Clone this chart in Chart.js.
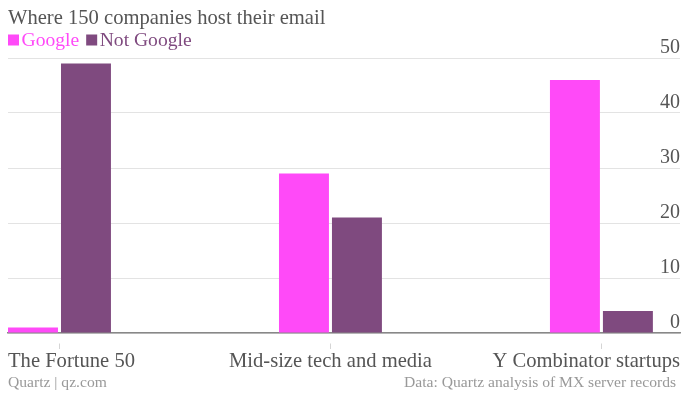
<!DOCTYPE html>
<html><head><meta charset="utf-8">
<script src="https://cdn.jsdelivr.net/npm/chart.js@4"></script>
<style>html,body{margin:0;padding:0;background:#fff;}#wrap{width:694px;height:404px;position:relative;}</style>
</head><body><div id="wrap"><canvas id="c" width="694" height="404"></canvas></div>
<script>
const chartTitle = "Where 150 companies host their email";
const categories = ["The Fortune 50", "Mid-size tech and media", "Y Combinator startups"];
const seriesNames = ["Google", "Not Google"];
const googleValues = [1, 29, 46];
const notGoogleValues = [49, 21, 4];
const yTickValues = [0, 10, 20, 30, 40, 50];
const sourceLeft = "Quartz | qz.com";
const sourceRight = "Data: Quartz analysis of MX server records";

const FONT = '"Liberation Serif", serif';
const colors = ["#ff4af8", "#7f4a7f"];
const textColor = "#555555";

const overlay = {
  id: 'overlay',
  afterDraw(chart) {
    const {ctx, chartArea, scales: {x}} = chart;
    ctx.save();
    ctx.textBaseline = 'alphabetic';
    ctx.textAlign = 'left';
    ctx.font = '20.6px ' + FONT;
    ctx.fillStyle = textColor;
    ctx.fillText(chartTitle, 8, 24);
    let lx = 8;
    ctx.font = '19.6px ' + FONT;
    chart.data.datasets.forEach(ds => {
      ctx.fillStyle = ds.backgroundColor;
      ctx.fillRect(lx, 34.5, 11, 11);
      lx += 13.5;
      ctx.fillText(ds.label, lx, 45.5);
      lx += ctx.measureText(ds.label).width + 7;
    });
    ctx.fillStyle = textColor;
    ctx.font = '20.6px ' + FONT;
    categories.forEach((c, i) => {
      const px = x.getPixelForValue(i);
      if (i === 0) { ctx.textAlign = 'left'; ctx.fillText(c, chartArea.left, 366.5); }
      else if (i === categories.length - 1) { ctx.textAlign = 'right'; ctx.fillText(c, chartArea.right, 366.5); }
      else { ctx.textAlign = 'center'; ctx.fillText(c, px, 366.5); }
    });
    ctx.font = '15.6px ' + FONT;
    ctx.fillStyle = '#999999';
    ctx.textAlign = 'left';
    ctx.fillText(sourceLeft, chartArea.left, 386.5);
    ctx.textAlign = 'right';
    ctx.fillText(sourceRight, chartArea.right - 4, 386.5);
    ctx.restore();
  }
};

new Chart(document.getElementById('c'), {
  type: 'bar',
  data: {
    datasets: [
      { label: seriesNames[0], data: googleValues.map((v, i) => ({x: i, y: v})), backgroundColor: colors[0] },
      { label: seriesNames[1], data: notGoogleValues.map((v, i) => ({x: i, y: v})), backgroundColor: colors[1] }
    ]
  },
  options: {
    responsive: false,
    animation: false,
    devicePixelRatio: 1,
    layout: { padding: { left: 8, right: 14, top: 58, bottom: 55 } },
    datasets: { bar: { categoryPercentage: 0.391, barPercentage: 0.943, borderWidth: 0, clip: false } },
    plugins: { legend: { display: false }, title: { display: false }, tooltip: { enabled: false } },
    scales: {
      x: {
        type: 'linear', min: -0.19, max: 2.29, offset: false,
        afterBuildTicks: s => { s.ticks = categories.map((_, i) => ({value: i})); },
        afterFit: s => { s.height = 16; },
        ticks: { display: false },
        grid: { offset: false, drawOnChartArea: false, drawTicks: true, tickLength: 16, color: '#d5d5d5', tickBorderDash: [0, 10, 6] },
        border: { display: true, color: '#888888', width: 1.5 }
      },
      y: {
        position: 'right', min: 0, max: 50,
        afterBuildTicks: s => { s.ticks = yTickValues.map(v => ({value: v})); },
        afterFit: s => { s.width = 0; },
        ticks: { mirror: true, padding: 0, labelOffset: -10, color: textColor, font: { family: FONT, size: 20 } },
        grid: { color: '#e3e3e3', drawTicks: false },
        border: { display: false }
      }
    }
  },
  plugins: [overlay]
});
</script></body></html>
